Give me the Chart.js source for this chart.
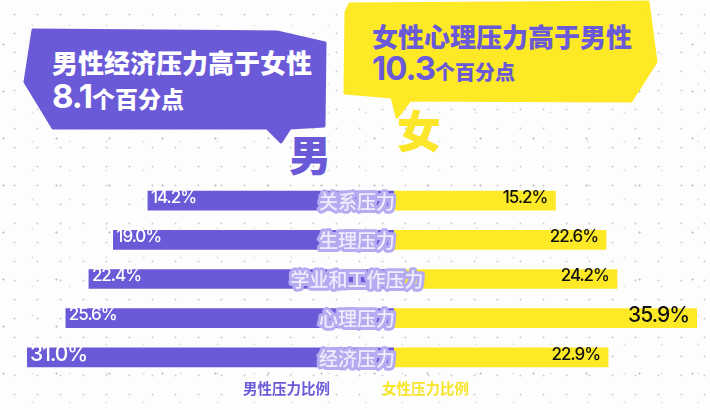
<!DOCTYPE html>
<html><head><meta charset="utf-8">
<script src="https://cdn.jsdelivr.net/npm/chart.js@4.4.0/dist/chart.umd.min.js"></script>
<style>
html,body{margin:0;padding:0;background:#fff;}
#wrap{position:relative;width:710px;height:410px;overflow:hidden;background-color:#fdfdfd;
  background-image:
    radial-gradient(circle, #d2d2d2 0.8px, transparent 1.3px),
    radial-gradient(circle, #dedede 0.7px, transparent 1.2px),
    radial-gradient(circle, #c8c8c8 0.9px, transparent 1.4px);
  background-size:23px 19px, 37px 29px, 53px 47px;
  background-position:3px 5px, 14px 11px, 30px 21px;}
#c{position:absolute;left:0;top:0;}
svg{position:absolute;left:0;top:0;}
.t{position:absolute;font-family:"Noto Sans CJK SC";font-weight:900;white-space:nowrap;line-height:1;}
.num{font-family:"Inter","Noto Sans CJK SC";font-weight:700;letter-spacing:-1px;}
</style></head><body>
<div id="wrap">
<svg width="710" height="410">
  <polygon points="33,30 277,32 325,43 324,126 290,128 281,142 267,128 53,128 25,82" fill="#6a5ad8" stroke="#6a5ad8" stroke-width="3" stroke-linejoin="round"/>
  <polygon points="350,4 648,2 656,62 631,101 410,100 397,117 392,97 345,93 346,12" fill="#fde925" stroke="#fde925" stroke-width="3" stroke-linejoin="round"/>
</svg>
<div class="t" style="left:52px;top:49px;font-size:26px;color:#fff">男性经济压力高于女性</div>
<div class="t" style="left:52px;top:80px;color:#fff"><span class="num" style="font-size:33px">8.1</span><span style="font-size:23px">个百分点</span></div>
<div class="t" style="left:372px;top:23px;font-size:26px;color:#6a5ad8">女性心理压力高于男性</div>
<div class="t" style="left:372px;top:52px;color:#6a5ad8"><span class="num" style="font-size:33px">10.3</span><span style="font-size:20px">个百分点</span></div>
<div class="t" style="left:289px;top:132px;font-size:42px;color:#6a5ad8">男</div>
<div class="t" style="left:397px;top:107px;font-size:44px;color:#fbe62a">女</div>
<canvas id="c" width="710" height="410"></canvas>
</div>
<script>
// ---- data ----
const categories = ['关系压力', '生理压力', '学业和工作压力', '心理压力', '经济压力'];
const maleValues = [14.2, 19.0, 22.4, 25.6, 31.0];
const femaleValues = [15.2, 22.6, 24.2, 35.9, 22.9];
const seriesNames = ['男性压力比例', '女性压力比例'];

// ---- style ----
const PURPLE = '#6a5ad8';
const YELLOW = '#fde925';
const MALE_AXIS = {min: -20, max: 31};
const FEMALE_AXIS = {min: -8.4, max: 35.9};

const labelPlugin = {
  id: 'labels',
  afterDatasetsDraw(chart) {
    const ctx = chart.ctx;
    const m0 = chart.getDatasetMeta(0), m1 = chart.getDatasetMeta(1);
    const center = chart.scales.xm.getPixelForValue(MALE_AXIS.min);
    const maxM = Math.max(...maleValues), maxF = Math.max(...femaleValues);
    ctx.save();
    ctx.textBaseline = 'middle';
    categories.forEach((cat, i) => {
      const b0 = m0.data[i], b1 = m1.data[i];
      const left = Math.min(b0.x, b0.base);
      const right = Math.max(b1.x, b1.base);
      const y = b0.y;
      // male value
      ctx.font = (maleValues[i] === maxM ? '500 21px' : '500 17px') + ' Inter, Roboto, sans-serif';
      ctx.letterSpacing = '-1px';
      ctx.fillStyle = '#ffffff';
      ctx.textAlign = 'left';
      ctx.fillText(maleValues[i].toFixed(1) + '%', left + 3, y - 3);
      // female value
      ctx.font = (femaleValues[i] === maxF ? '500 21px' : '500 17px') + ' Inter, Roboto, sans-serif';
      ctx.fillStyle = '#111111';
      ctx.textAlign = 'right';
      ctx.fillText(femaleValues[i].toFixed(1) + '%', right - 8, y - 3);
      // category label
      ctx.letterSpacing = '0px';
      ctx.font = '500 19px "Noto Sans CJK SC"';
      ctx.textAlign = 'center';
      ctx.lineJoin = 'round';
      ctx.lineWidth = 6;
      ctx.strokeStyle = '#b5abf0';
      ctx.strokeText(cat, center - 37, y + 1);
      ctx.fillStyle = '#efedfd';
      ctx.fillText(cat, center - 37, y + 1);
    });
    // legend
    ctx.font = 'bold 14.5px "Noto Sans CJK SC"';
    ctx.textAlign = 'left';
    const cx = chart.width / 2;
    ctx.fillStyle = PURPLE;
    ctx.fillText(seriesNames[0], cx - 112, 388);
    ctx.fillStyle = '#f7e52a';
    ctx.fillText(seriesNames[1], cx + 27, 388);
    ctx.restore();
  }
};

new Chart(document.getElementById('c'), {
  type: 'bar',
  data: {
    labels: categories,
    datasets: [
      {label: seriesNames[0], data: maleValues, xAxisID: 'xm', backgroundColor: PURPLE, base: MALE_AXIS.min, barThickness: 19},
      {label: seriesNames[1], data: femaleValues, xAxisID: 'xf', backgroundColor: YELLOW, base: FEMALE_AXIS.min, barThickness: 19}
    ]
  },
  options: {
    indexAxis: 'y',
    responsive: false,
    animation: false,
    layout: {padding: {left: 27, right: 13, top: 181, bottom: 33}},
    scales: {
      xm: {type: 'linear', position: 'bottom', stack: 'x', stackWeight: 367, weight: 1, reverse: true, min: MALE_AXIS.min, max: MALE_AXIS.max, display: false},
      xf: {type: 'linear', position: 'bottom', stack: 'x', stackWeight: 303, weight: 2, min: FEMALE_AXIS.min, max: FEMALE_AXIS.max, display: false},
      y: {type: 'category', stacked: true, display: false}
    },
    plugins: {legend: {display: false}, tooltip: {enabled: false}}
  },
  plugins: [labelPlugin]
});
</script>
</body></html>
